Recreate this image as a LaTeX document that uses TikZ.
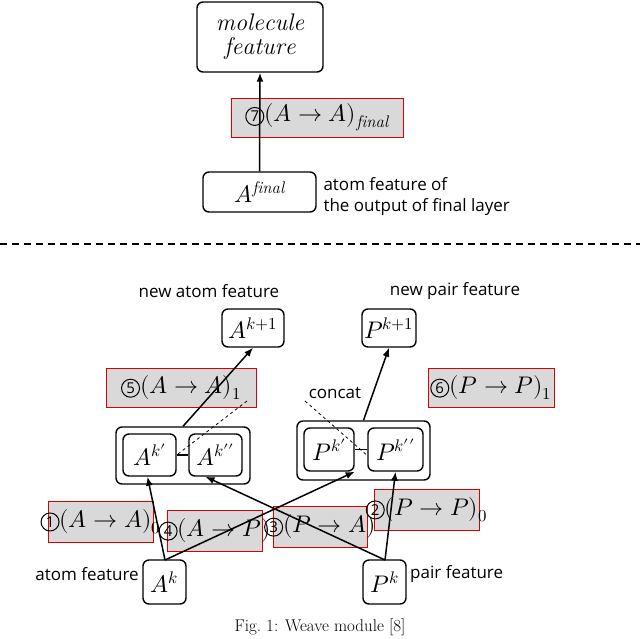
\documentclass[tikz,border=0pt]{standalone}
\usepackage{fontspec}
\usepackage{unicode-math}
\setmathfont{Latin Modern Math}
\setsansfont{Open Sans}
\usetikzlibrary{arrows.meta}
\newcommand{\cn}[1]{\tikz[baseline=(cc.base)]\node[circle,draw,line width=1pt,inner sep=0.5pt,minimum size=18pt,font=\sffamily\fontsize{15}{17}\selectfont](cc){#1};}
\begin{document}
\begin{tikzpicture}[x=1pt,y=-1pt,
  every node/.style={font=\fontsize{24}{28}\selectfont},
  box/.style={draw,line width=1.4pt,rounded corners=6pt,inner sep=0pt},
  lab/.style={draw=red!85!black,line width=1pt,fill=gray!30,inner sep=0pt},
  plain/.style={font=\sffamily\fontsize{17}{21}\selectfont},
  arr/.style={line width=1.5pt,-{Latex[length=9pt,width=7pt]}}]
\useasboundingbox (0,0) rectangle (640,638);
% top part
\node[box,minimum width=126,minimum height=70,align=center] (mol) at (260,37) {$\mathit{molecule}$\\[-4pt]$\mathit{feature}$};
\node[box,minimum width=113,minimum height=40] (af) at (259.5,192) {$A^{\mathit{final}}$};
\node[plain,anchor=west,align=left] (aft) at (320,197) {atom feature of\\the output of final layer};
\node[lab,minimum width=172,minimum height=39] (l7) at (317,117.5) {};
\draw[arr] (af.north) -- (mol.south);
\node (l7t) at (317,117.5) {\cn{7}$(A\rightarrow A)_{\mathit{final}}$};
\draw[line width=1.5pt,dash pattern=on 7pt off 5pt] (0,244) coordinate (dl) -- (640,244) coordinate (dr);
% bottom part
\node[plain] (nat) at (209,291) {new atom feature};
\node[plain] (npt) at (455,291) {new pair feature};
\node[box,minimum width=62,minimum height=38] (ak1) at (253,328) {$A^{k+1}$};
\node[box,minimum width=54,minimum height=38] (pk1) at (389,328) {$P^{k+1}$};
\node[lab,minimum width=150,minimum height=39] (l5) at (181,387.5) {\cn{5}$(A\rightarrow A)_1$};
\node[lab,minimum width=126,minimum height=39] (l6) at (491,387.5) {\cn{6}$(P\rightarrow P)_1$};
\node[plain] (cc) at (335,393) {concat};
\node[box,minimum width=134,minimum height=57] (lo) at (183,455.5) {};
\node[box,minimum width=53,minimum height=42] (a1) at (149.5,455) {$A^{k\prime}$};
\node[box,minimum width=53,minimum height=42] (a2) at (215.5,455) {$A^{k\prime\prime}$};
\node[box,minimum width=133,minimum height=59] (ro) at (363.5,450.5) {};
\node[box,minimum width=50,minimum height=43] (p1) at (329,449.5) {$P^{k\prime}$};
\node[box,minimum width=55,minimum height=43] (p2) at (395.5,449.5) {$P^{k\prime\prime}$};
\draw[line width=1.4pt] (a1.east) -- (a2.west);
\draw[line width=1.4pt] (p1.east) -- (p2.west);
\coordinate (d1) at (247,401);
\coordinate (d2) at (305,401);
\draw[thick,dashed] (d1) -- (a1.east);
\draw[thick,dashed] (d2) -- ([yshift=-6pt]p2.west);
\draw[arr] (lo.north) -- (ak1.south);
\draw[arr] (ro.north) -- (pk1.south);
\node[lab,minimum width=105,minimum height=41] (l1) at (100.5,521.5) {};
\node[lab,minimum width=95,minimum height=41] (l4) at (214.5,530.5) {};
\node[lab,minimum width=94,minimum height=41] (l3) at (320,526.5) {};
\node[lab,minimum width=105,minimum height=41] (l2) at (426.5,509.5) {};
\node[box,minimum width=43,minimum height=44] (ak) at (164.5,582) {$A^k$};
\node[box,minimum width=43,minimum height=44] (pk) at (384.5,582) {$P^k$};
\coordinate (aks) at (165,560);
\coordinate (pks) at (385,560);
\draw[arr] (aks) -- ([xshift=-2pt]a1.south);
\draw[arr] (aks) -- (p1.south east);
\draw[arr] (pks) -- ([xshift=-10pt]a2.south);
\draw[arr] (pks) -- (p2.south);
\node (l1t) at (100.5,521.5) {\cn{1}$(A\rightarrow A)_0$};
\node (l4t) at (214.5,530.5) {\cn{4}$(A\rightarrow P)$};
\node (l3t) at (320,526.5) {\cn{3}$(P\rightarrow A)$};
\node (l2t) at (426.5,509.5) {\cn{2}$(P\rightarrow P)_0$};
\node[plain,anchor=east] (atf) at ([yshift=8pt]ak.west) {atom feature};
\node[plain,anchor=west] (ptf) at ([yshift=8pt]pk.east) {pair feature};
\node[font=\rmfamily\fontsize{17}{20}\selectfont] (cap) at (320,627) {Fig.~1: Weave module [8]};
\end{tikzpicture}
\end{document}
